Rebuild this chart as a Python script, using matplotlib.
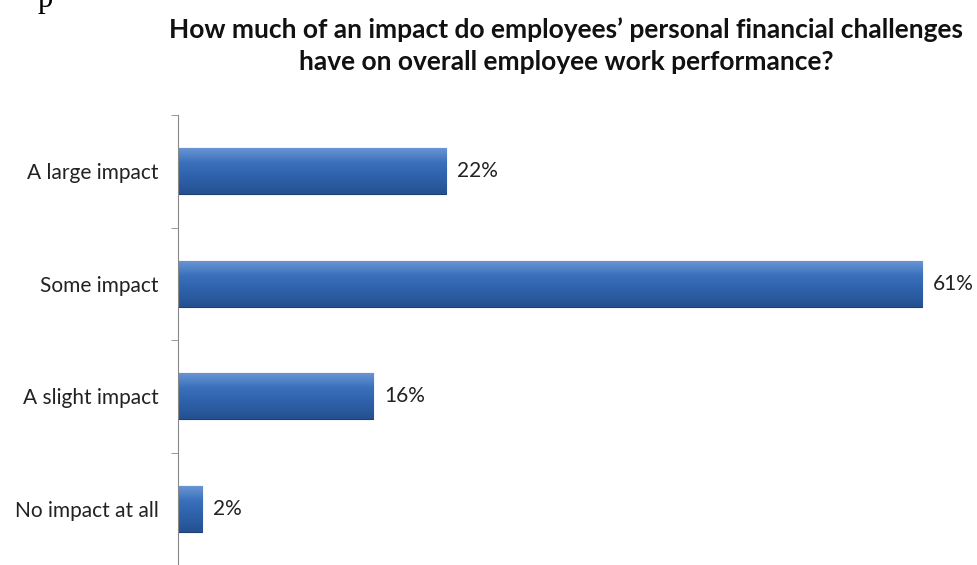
import numpy as np
import matplotlib
matplotlib.use('Agg')
import matplotlib.pyplot as plt
from matplotlib.colors import LinearSegmentedColormap

categories = ['A large impact', 'Some impact', 'A slight impact', 'No impact at all']
values = [22, 61, 16, 2]
value_labels = ['22%', '61%', '16%', '2%']

title = ('How much of an impact do employees\u2019 personal financial challenges\n'
         'have on overall employee work performance?')

plt.rcParams['font.family'] = ['Lato', 'DejaVu Sans']

fig = plt.figure(figsize=(9.77, 5.65), dpi=100)
ax = fig.add_axes([178 / 977, 0.0, (977 - 178) / 977, (565 - 115) / 565])

y = np.arange(len(categories))
bars = ax.barh(y, values, height=0.41, color='#2f62ad', edgecolor='#1e3f74', linewidth=0.8)

# vertical gradient inside each bar
grad = LinearSegmentedColormap.from_list('bar', ['#6a97d6', '#3a6fba', '#2e60a9', '#24508f'])
g = np.linspace(0, 1, 64).reshape(-1, 1)
for b in bars:
    x0, y0 = b.get_x(), b.get_y()
    w, h = b.get_width(), b.get_height()
    im = ax.imshow(g, cmap=grad, aspect='auto', extent=(x0, x0 + w, y0 + h, y0),
                   zorder=2, interpolation='bilinear')
    im.set_clip_path(b)

for yi, v, lab in zip(y, values, value_labels):
    ax.text(v + 0.9, yi, lab, va='center', ha='left', fontsize=15, color='#222222')

ax.set_xlim(0, 65.5)
ax.set_ylim(len(categories) - 0.5, -0.5)
ax.set_yticks(y)
ax.set_yticklabels(categories, fontsize=15, color='#222222')
ax.tick_params(axis='y', which='major', length=0, pad=14)
ax.set_yticks(np.arange(-0.5, len(categories), 1.0), minor=True)
ax.tick_params(axis='y', which='minor', length=5, color='#888888', direction='out')
ax.set_xticks([])
for s in ['top', 'right', 'bottom']:
    ax.spines[s].set_visible(False)
ax.spines['left'].set_color('#888888')

fig.text(566 / 977, 1 - 46 / 565, title, ha='center', va='center', fontsize=19,
         fontweight='bold', color='#111111', linespacing=1.4)
fig.text(45 / 977, 1.0, 'p', ha='center', va='center', fontsize=22,
         family='Liberation Serif', color='#000000')

fig.savefig('out.png', dpi=100)
